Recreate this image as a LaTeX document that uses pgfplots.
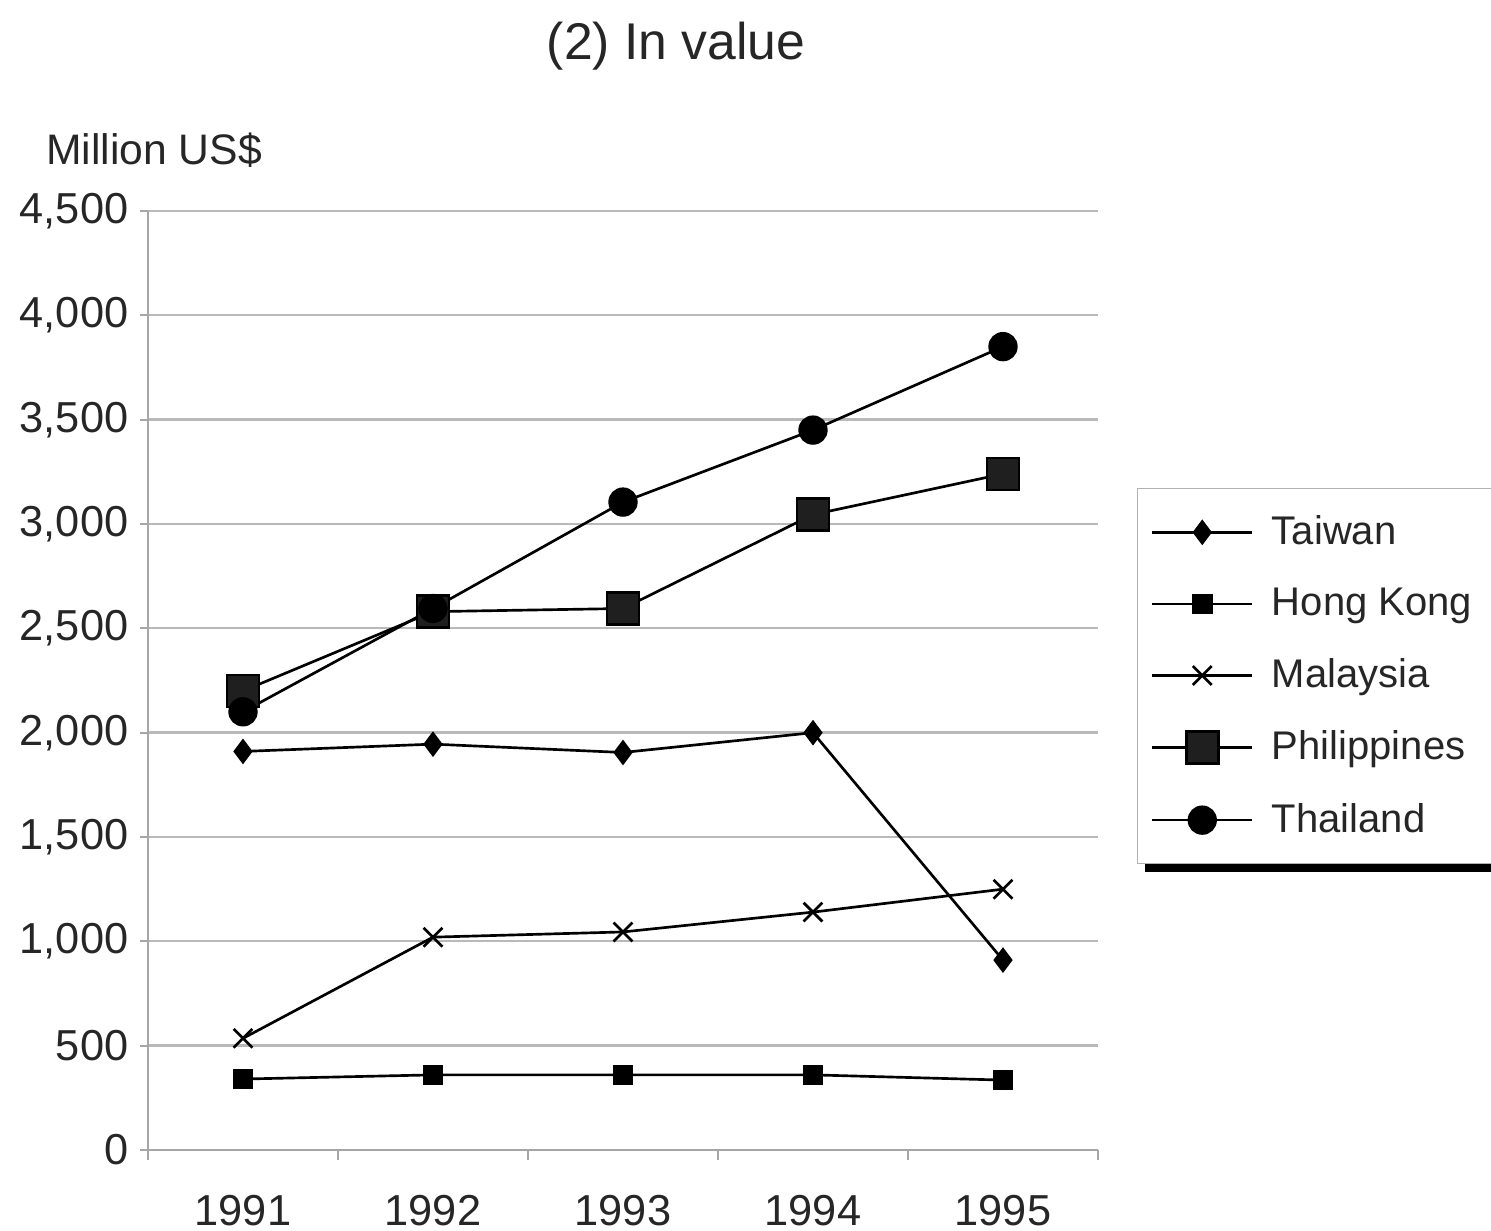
\documentclass[border=0pt]{standalone}
\usepackage{pgfplots}
\pgfplotsset{compat=1.18}
\usepackage{fontspec}
\setmainfont{Liberation Sans}
\begin{document}
\begin{tikzpicture}
\path[use as bounding box] (0,0) rectangle (447.3pt,369.3pt);
\begin{axis}[
  at={(44.4pt,24.3pt)}, anchor=south west,
  scale only axis, width=285pt, height=281.7pt,
  xmin=-0.5, xmax=4.5, ymin=0, ymax=4500,
  xtick={0,...,4}, xticklabels={1991,1992,1993,1994,1995},
  minor xtick={-0.5,0.5,...,4.5},
  ytick={0,500,...,4500},
  axis x line*=bottom, axis y line*=left,
  axis line style={gray!70, line width=0.6pt},
  ymajorgrids, grid style={gray!55, line width=0.7pt},
  major x tick style={draw=none},
  minor x tick style={gray!70, line width=0.6pt},
  y tick style={gray!70, line width=0.6pt},
  tick align=outside, major tick length=2.4pt, minor tick length=3pt,
  /pgf/number format/assume math mode=true,
  /pgf/number format/1000 sep={,},
  yticklabel style={font=\fontsize{13}{15}\selectfont, text=black!85},
  xticklabel style={font=\fontsize{13}{15}\selectfont, text=black!85, yshift=-7.5pt},
  clip=false,
  legend cell align=left,
  legend image code/.code={\draw[mark repeat=2, mark phase=2, #1] plot coordinates {(0pt,0pt) (15pt,0pt) (30pt,0pt)};},
  legend style={at={(1.041,0.705)}, anchor=north west, draw=gray!60, fill=white,
    font=\fontsize{12}{14}\selectfont, text=black!85, row sep=7.5pt, inner xsep=4pt, inner ysep=6pt,
    /tikz/every odd column/.append style={column sep=3.5pt}},
  every axis plot/.append style={black, line width=0.8pt},
]
\fill[black] (rel axis cs:1.050,0.697) rectangle (rel axis cs:1.419,0.296);
\addplot[mark=diamond*, mark size=3.2pt, mark options={fill=black}] coordinates {(0,1910) (1,1945) (2,1905) (3,2000) (4,910)};
\addlegendentry{Taiwan}
\addplot[mark=square*, mark size=2.7pt, mark options={fill=black}] coordinates {(0,340) (1,360) (2,360) (3,360) (4,335)};
\addlegendentry{Hong Kong}
\addplot[mark=x, mark size=4pt] coordinates {(0,535) (1,1020) (2,1045) (3,1140) (4,1250)};
\addlegendentry{Malaysia}
\addplot[mark=square*, mark size=4.8pt, mark options={fill=black!88}] coordinates {(0,2200) (1,2580) (2,2595) (3,3045) (4,3240)};
\addlegendentry{Philippines}
\addplot[mark=*, mark size=4pt, mark options={fill=black}] coordinates {(0,2100) (1,2595) (2,3105) (3,3450) (4,3850)};
\addlegendentry{Thailand}
\node[anchor=base west, inner sep=0pt, font=\fontsize{12.8}{15}\selectfont, text=black!85] at (rel axis cs:-0.108,1.049) {Million US\$};
\node[anchor=base, font=\fontsize{15.5}{18}\selectfont, text=black!85] at (rel axis cs:0.556,1.161) {(2) In value};
\end{axis}
\end{tikzpicture}
\end{document}
